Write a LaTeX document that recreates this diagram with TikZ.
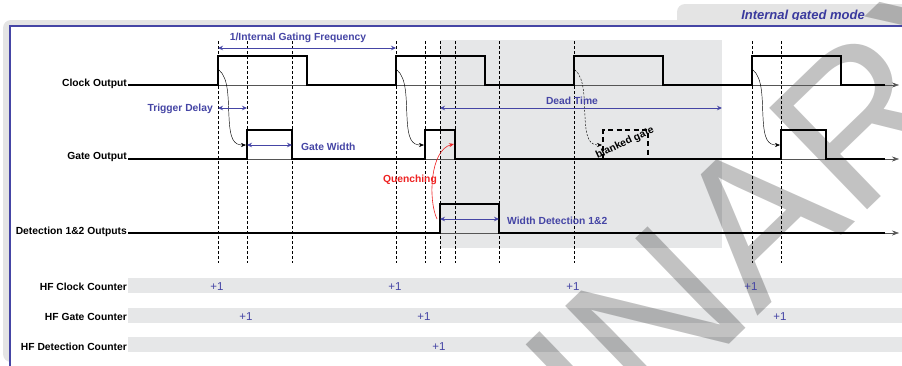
\documentclass[tikz,border=0pt]{standalone}
\usepackage{fontspec}
\setmainfont{Liberation Sans}
\usetikzlibrary{arrows.meta}
\definecolor{framegray}{HTML}{E4E4E4}
\definecolor{bandgray}{HTML}{E6E7E8}
\definecolor{labelblue}{HTML}{4545A5}
\definecolor{titleblue}{HTML}{3A3A9E}
\definecolor{quenchred}{HTML}{EE2222}
\definecolor{axisgray}{HTML}{555555}

\begin{document}
\begin{tikzpicture}[x=1pt, y=-1pt, >=Stealth, font=\fontsize{10.3}{12}\selectfont\bfseries,
  sig/.style={black, line width=1.7pt},
  axisline/.style={axisgray, line width=0.5pt, -{Stealth[length=7pt,width=5pt]}},
  guide/.style={black, line width=0.55pt, dash pattern=on 3pt off 2pt},
  dim/.style={labelblue, line width=1pt, {Stealth[length=5pt,width=4.5pt]}-{Stealth[length=5pt,width=4.5pt]}},
  trig/.style={black, line width=0.45pt, -{Stealth[length=5pt,width=4pt]}},
  rowlabel/.style={anchor=base east, inner sep=0pt},
  bluelabel/.style={labelblue, inner sep=0pt},
  plusone/.style={labelblue, anchor=base, inner sep=0pt, font=\fontsize{11.5}{12}\selectfont}]
  \useasboundingbox (0,0) rectangle (902,365);
  % frame and tab
  \fill[framegray, rounded corners=8pt] (3,20) rectangle (920,362);
  \fill[framegray, rounded corners=8pt] (677,4) rectangle (920,30);
  \fill[white] (10,26) rectangle (902,370);
  \begin{scope}
    \clip (600,0) rectangle (902,19.6);
    \node[titleblue, anchor=base, inner sep=0pt, font=\fontsize{13}{14}\selectfont\bfseries\itshape] (title) at (803,19.4) {Internal gated mode};
  \end{scope}
  \draw[labelblue, line width=1.8pt] (10,366) -- (10,26) -- (902,26);
  % shaded areas
  \fill[bandgray] (440,40) rectangle (722,248);
  \foreach \y in {278,308,337}
    \fill[bandgray] (128,\y) rectangle (902,\y+15);
  % watermark
  \node[rotate=44, anchor=base west, inner sep=0pt, text=black, text opacity=0.24,
    font=\fontsize{205}{205}\selectfont] (stamp) at (61,989.5) {PRELIMINARY};
  % time marks
  \foreach \x in {218,247,292,396,425,440,455,499,574,752,781}
    \draw[guide] (\x,41) -- (\x,263);
  \foreach \y in {85,159,233}
    \draw[axisline] (128,\y) -- (899,\y);
  % signals
  \draw[sig] (128,85) \foreach \t in {218,396,574,752} { -- (\t,85) -- (\t,56) -- (\t+89,56) -- (\t+89,85) } -- (885,85);
  \draw[sig] (128,159) \foreach \a/\b in {247/292,425/455,781/826} { -- (\a,159) -- (\a,130) -- (\b,130) -- (\b,159) } -- (885,159);
  \draw[sig] (128,233) -- (440,233) -- (440,204) -- (499,204) -- (499,233) -- (885,233);
  \draw[black, line width=1.2pt, dash pattern=on 5pt off 3.5pt] (603,159) -- (603,130) -- (648,130) -- (648,159);
  % triggers
  \foreach \t in {218,396,752}
    \draw[trig] (\t+1,70) .. controls (\t+11,78) and (\t+10,100) .. (\t+11,117) .. controls (\t+12,140) and (\t+16,145) .. (\t+28,145);
  \draw[trig, dash pattern=on 2pt off 1.5pt] (575,70) .. controls (585,78) and (584,100) .. (585,117) .. controls (586,140) and (590,145) .. (602,145);
  \draw[quenchred, line width=0.6pt, -{Stealth[length=5pt,width=4pt]}] (437,219) .. controls (428,200) and (430,150) .. (454,144);
  % dimensions
  \draw[dim] (218,48) -- (396,48);
  \draw[dim] (218,108) -- (247,108);
  \draw[dim] (247,145) -- (292,145);
  \draw[dim] (440,108) -- (722,108);
  \draw[dim] (440,219) -- (499,219);
  \node[bluelabel, anchor=base] (freq) at (298,40.7) {1/Internal Gating Frequency};
  \node[bluelabel, anchor=base east] (delay) at (213,111) {Trigger Delay};
  \node[bluelabel, anchor=base west] (gatewidth) at (301,150) {Gate Width};
  \node[bluelabel, anchor=base] (deadtime) at (572,104.5) {Dead Time};
  \node[bluelabel, anchor=base west] (detwidth) at (507,224) {Width Detection 1\&2};
  \node[quenchred, anchor=base east, inner sep=0pt] (quench) at (437,182) {Quenching};
  \node[rotate=25, inner sep=0pt] (blanked) at (625,143) {blanked gate};
  % row labels
  \node[rowlabel] (clock) at (127,86) {Clock Output};
  \node[rowlabel] (gate) at (127,159.5) {Gate Output};
  \node[rowlabel] (det) at (127,234) {Detection 1\&2 Outputs};
  \node[rowlabel] (hfclock) at (127,290) {HF Clock Counter};
  \node[rowlabel] (hfgate) at (127,320) {HF Gate Counter};
  \node[rowlabel] (hfdet) at (127,350) {HF Detection Counter};
  % counter increments
  \foreach \t in {218,396,574,752}
    \node[plusone] (clk\t) at (\t-1,290) {+1};
  \foreach \t in {247,425,781}
    \node[plusone] (gt\t) at (\t-1,320) {+1};
  \node[plusone] (dt440) at (439,350) {+1};
\end{tikzpicture}
\end{document}
